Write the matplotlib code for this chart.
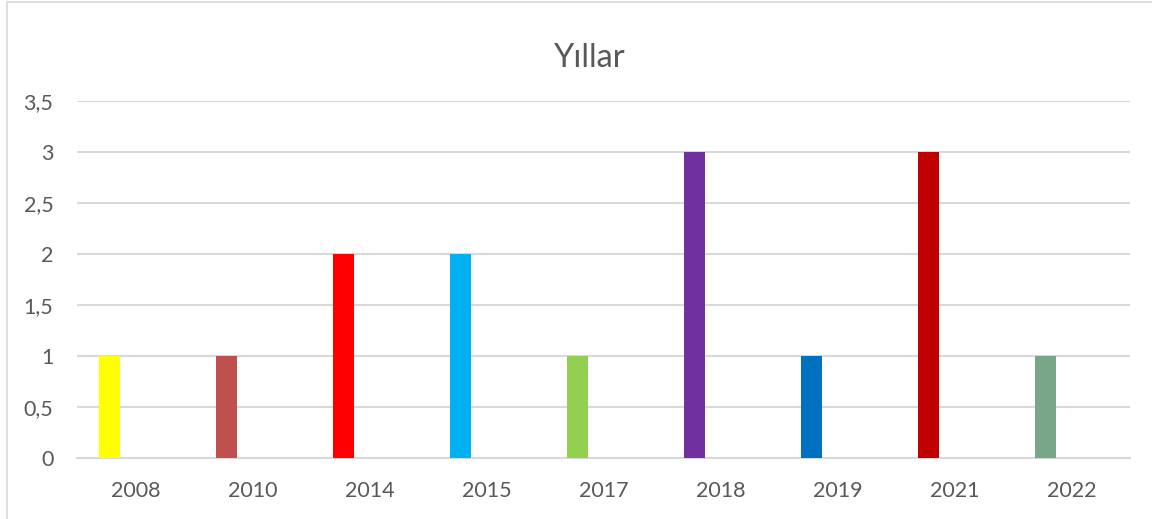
import matplotlib.pyplot as plt
import matplotlib.patches as patches

years = ['2008', '2010', '2014', '2015', '2017', '2018', '2019', '2021', '2022']
counts = [1, 1, 2, 2, 1, 3, 1, 3, 1]
bar_colors = ['#FFFF00', '#C0504D', '#FF0000', '#00B0F0', '#92D050',
              '#7030A0', '#0070C0', '#C00000', '#79A689']
y_ticks = [0, 0.5, 1, 1.5, 2, 2.5, 3, 3.5]
y_tick_labels = ['0', '0,5', '1', '1,5', '2', '2,5', '3', '3,5']

plt.rcParams['font.family'] = ['Lato', 'DejaVu Sans']

fig = plt.figure(figsize=(11.52, 5.19), dpi=100)
ax = fig.add_axes([77 / 1152, 60.7 / 519, 1053 / 1152, 357.3 / 519])

# bars sit left of the category centre, like an Excel clustered column
x = [i - 0.222 for i in range(len(years))]
ax.bar(x, counts, width=0.18, color=bar_colors, zorder=3)

ax.set_xlim(-0.5, len(years) - 0.5)
ax.set_ylim(0, 3.5)
ax.set_xticks(range(len(years)))
ax.set_xticklabels(years)
ax.set_yticks(y_ticks)
ax.set_yticklabels(y_tick_labels)
ax.tick_params(axis='both', length=0, labelsize=15.5, labelcolor='#595959')
ax.tick_params(axis='y', pad=17)
ax.tick_params(axis='x', pad=16)
ax.grid(axis='y', color='#D9D9D9', linewidth=1.5, zorder=0)
for side in ['top', 'right', 'left']:
    ax.spines[side].set_visible(False)
ax.spines['bottom'].set_color('#D9D9D9')
ax.spines['bottom'].set_linewidth(1.5)

fig.text(590 / 1152, 1 - 58 / 519, 'Yıllar', ha='center', va='center',
         fontsize=23.5, color='#595959')

# chart border
fig.patches.append(patches.Rectangle((7 / 1152, -0.01), 1.2, 1 - 2 / 519 + 0.01,
                                     transform=fig.transFigure, fill=False,
                                     edgecolor='#D9D9D9', linewidth=1.2))

fig.savefig('out.png', dpi=100)
